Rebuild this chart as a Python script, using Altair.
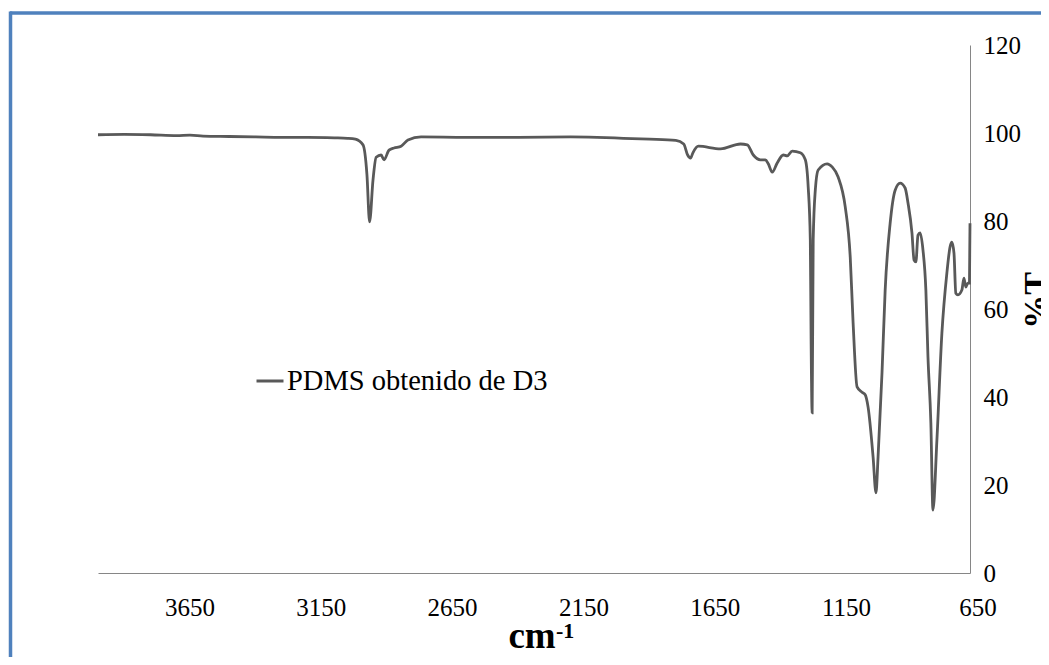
import altair as alt
import pandas as pd

# Wavenumber (cm-1) and transmittance (%T)
wavenumber = [4000, 3900, 3800, 3700, 3650, 3600, 3500, 3400, 3300, 3200, 3100, 3050, 3020,
              2991, 2976, 2966, 2953, 2941, 2922, 2911, 2892, 2873, 2846, 2820, 2770,
              2600, 2400, 2200, 2100, 2000, 1900, 1800, 1770, 1755, 1744, 1735, 1714,
              1630, 1554, 1528, 1505, 1478, 1459, 1448, 1433, 1414, 1391, 1376, 1357,
              1326, 1307, 1296, 1288, 1285, 1281, 1277, 1269, 1258, 1224, 1205, 1182,
              1155, 1136, 1125, 1110, 1091, 1079, 1068, 1049, 1038, 1030, 1015, 1003,
              984, 965, 946, 927, 916, 901, 893, 886, 878, 870, 859, 848, 840, 829,
              821, 806, 787, 768, 756, 749, 741, 734, 726, 711, 703, 696, 688, 682, 680]
transmittance = [99.6, 99.7, 99.6, 99.4, 99.5, 99.3, 99.2, 99.1, 99.0, 99.0, 98.9, 98.8, 98.6,
                 97.3, 90.5, 79.8, 89.3, 94.5, 95.0, 93.9, 96.1, 96.6, 97.0, 98.4, 99.1,
                 99.0, 99.0, 99.1, 99.0, 98.8, 98.6, 98.3, 97.5, 95.0, 94.3, 95.5, 97.0,
                 96.4, 97.5, 97.3, 95.0, 93.9, 93.9, 93.0, 91.1, 93.2, 95.0, 94.8, 95.9,
                 95.5, 93.9, 87.7, 75.7, 53.0, 36.4, 75.7, 87.0, 91.6, 93.0, 92.3, 90.0,
                 83.2, 71.8, 56.8, 42.3, 41.1, 40.5, 37.7, 26.4, 18.2, 26.4, 45.5, 64.3,
                 79.5, 87.0, 88.6, 87.5, 84.1, 77.3, 71.1, 70.7, 76.8, 77.3, 73.4, 64.3, 49.1, 34.1,
                 14.3, 30.2, 54.5, 68.2, 74.1, 75.2, 72.7, 63.6, 63.2, 64.3, 67.0, 65.0, 65.9, 65.9, 79.5]
series_name = "PDMS obtenido de D3"

x_tick_values = [3650, 3150, 2650, 2150, 1650, 1150, 650]
y_tick_values = [0, 20, 40, 60, 80, 100, 120]

df = pd.DataFrame({"w": wavenumber, "t": transmittance, "s": series_name})
ticks_df = pd.DataFrame({"w": x_tick_values, "lab": [str(v) for v in x_tick_values]})
one = pd.DataFrame({"a": [0]})

W, H = 872, 528
FONT = "Liberation Serif"

xscale = alt.Scale(domain=[4000, 680], nice=False, zero=False)
yscale = alt.Scale(domain=[0, 120], nice=False)
xaxis = alt.Axis(title=None, labels=False, ticks=False, grid=False,
                 domainColor="#868686", domainWidth=1)

line = alt.Chart(df).mark_line(strokeWidth=2.8, interpolate="monotone").encode(
    x=alt.X("w:Q", scale=xscale, axis=xaxis),
    y=alt.Y("t:Q", scale=yscale,
            axis=alt.Axis(orient="right", values=y_tick_values, ticks=False, grid=False,
                          domainColor="#868686", domainWidth=1,
                          labelFont=FONT, labelFontSize=25, labelColor="black",
                          labelPadding=13,
                          title="%T", titleFont=FONT, titleFontSize=34, titleFontWeight="bold",
                          titleColor="black", titleAngle=270, titleX=66, titleY=255,
                          titleAlign="center", titleBaseline="middle")),
    color=alt.Color("s:N", scale=alt.Scale(range=["#595959"]),
                    legend=alt.Legend(title=None, orient="none", legendX=157, legendY=321,
                                      symbolType="stroke", symbolSize=729,
                                      symbolStrokeWidth=3, labelFont=FONT,
                                      labelFontSize=28.5, labelColor="black",
                                      labelLimit=0, labelOffset=2, padding=0)),
)

xlabels = alt.Chart(ticks_df).mark_text(font=FONT, fontSize=25, color="black",
                                         baseline="middle", align="center").encode(
    x=alt.X("w:Q", scale=xscale, axis=xaxis),
    y=alt.value(H + 35),
    text="lab:N",
)

xtitle = alt.Chart(one).mark_text(text="cm", font=FONT, fontSize=37, fontWeight="bold",
                                  color="black", align="center", baseline="alphabetic").encode(
    x=alt.value(434), y=alt.value(H + 75))
xsup = alt.Chart(one).mark_text(text="-1", font=FONT, fontSize=22, fontWeight="bold",
                                color="black", align="left", baseline="alphabetic").encode(
    x=alt.value(458), y=alt.value(H + 65))

border_top = alt.Chart(one).mark_rule(color="#4F81BD", strokeWidth=3.5).encode(
    x=alt.value(-88), x2=alt.value(W + 90), y=alt.value(-32), y2=alt.value(-32))
border_left = alt.Chart(one).mark_rule(color="#4F81BD", strokeWidth=3.5).encode(
    x=alt.value(-87.5), x2=alt.value(-87.5), y=alt.value(-33.5), y2=alt.value(H + 100))

chart = alt.layer(border_top, border_left, line, xlabels, xtitle, xsup).properties(
    width=W, height=H,
    autosize="none",
    background="white",
    padding={"left": 90, "top": 37, "right": 71, "bottom": 84},
).configure_view(strokeWidth=0)

chart.save("out.html", embed_options={"renderer": "svg", "actions": False})
